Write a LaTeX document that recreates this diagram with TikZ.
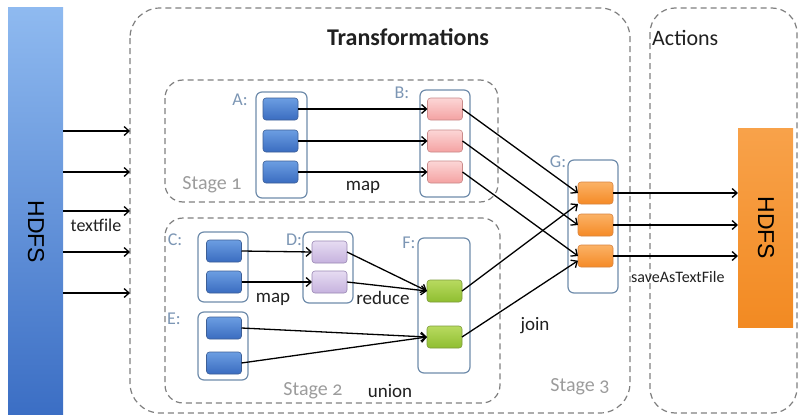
\documentclass[tikz,border=0pt]{standalone}
\usepackage{fontspec}
\setmainfont[Numbers=OldStyle]{Carlito}
\newfontfamily\arialfont{Liberation Sans}
\usetikzlibrary{arrows.meta}
\definecolor{holdline}{HTML}{6F8CAB}
\definecolor{dashgray}{HTML}{7F7F7F}
\definecolor{lettercol}{HTML}{7C96B4}
\definecolor{stagecol}{HTML}{9C9C9C}
\definecolor{txtcol}{HTML}{202020}
\definecolor{blueline}{HTML}{3D5F96}\definecolor{bluetop}{HTML}{6C9EE2}\definecolor{bluebot}{HTML}{3A6CC0}
\definecolor{pinkline}{HTML}{C98A8A}\definecolor{pinktop}{HTML}{FCD6D6}\definecolor{pinkbot}{HTML}{F4A2A2}
\definecolor{lilacline}{HTML}{9A88B4}\definecolor{lilactop}{HTML}{E6DCF2}\definecolor{lilacbot}{HTML}{C6B2DE}
\definecolor{greenline}{HTML}{7E9C3C}\definecolor{greentop}{HTML}{B8DA60}\definecolor{greenbot}{HTML}{8FBE30}
\definecolor{orangeline}{HTML}{D88440}\definecolor{orangetop}{HTML}{FBB266}\definecolor{orangebot}{HTML}{F58A26}
\definecolor{inbartop}{HTML}{8FBAF0}\definecolor{inbarbot}{HTML}{3B6EC4}
\definecolor{outbartop}{HTML}{F8A24A}\definecolor{outbarbot}{HTML}{F28A22}
\tikzset{
  dashbox/.style={draw=dashgray, line width=1.2pt, dash pattern=on 6pt off 4pt},
  holder/.style={draw=holdline, line width=1.2pt, rounded corners=6pt, fill=white, outer sep=0pt},
  blk/.style={rounded corners=3pt, minimum width=35, minimum height=22, line width=.6pt, outer sep=0pt},
  blueblk/.style={blk, draw=blueline, top color=bluetop, bottom color=bluebot},
  pinkblk/.style={blk, draw=pinkline, top color=pinktop, bottom color=pinkbot},
  lilacblk/.style={blk, draw=lilacline, top color=lilactop, bottom color=lilacbot},
  greenblk/.style={blk, draw=greenline, top color=greentop, bottom color=greenbot},
  orangeblk/.style={blk, draw=orangeline, top color=orangetop, bottom color=orangebot},
  link/.style={-{Straight Barb[length=5pt,width=9pt]}, line width=1.3pt, draw=black},
  letter/.style={text=lettercol, font=\fontsize{18}{20}\selectfont},
  stagetxt/.style={text=stagecol, font=\fontsize{20}{22}\selectfont},
  optxt/.style={text=txtcol, font=\fontsize{19}{21}\selectfont},
}
\begin{document}
\begin{tikzpicture}[x=1pt, y=-1pt]
	\useasboundingbox (0,0) rectangle (798,415);
	% dashed frames
	\draw[dashbox, rounded corners=30] (130,8) rectangle (630,413); % transformations
	\draw[dashbox, rounded corners=25] (650,8) rectangle (797,413); % actions
	\draw[dashbox, rounded corners=18] (165,80) rectangle (498,202); % stage 1
	\draw[dashbox, rounded corners=18] (165,218) rectangle (500,403); % stage 2
	\node[font=\bfseries\fontsize{24}{26}\selectfont, text=txtcol] (ttrans) at (408,37) {Transformations};
	\node[anchor=west, font=\fontsize{22}{24}\selectfont, text=txtcol, inner sep=0pt] (tact) at (652,38) {Actions};

	% HDFS bars
	\node[minimum width=55, minimum height=408, outer sep=0pt, top color=inbartop, bottom color=inbarbot] (hdfsin) at (35.5,211) {};
	\node[rotate=-90, font=\arialfont\fontsize{23}{23}\selectfont] (tin) at (36,232) {HDFS};
	\node[minimum width=55, minimum height=199, outer sep=0pt, top color=outbartop, bottom color=outbarbot] (hdfsout) at (765.5,227.5) {};
	\node[rotate=-90, font=\arialfont\fontsize{23}{23}\selectfont] (tout) at (766,228) {HDFS};

	% containers
	\node[holder, minimum width=51, minimum height=106] (A) at (281.5,145) {};
	\node[holder, minimum width=50, minimum height=107] (B) at (445,143.5) {};
	\node[holder, minimum width=50, minimum height=70] (C) at (223,267) {};
	\node[holder, minimum width=50, minimum height=71] (D) at (328,267.5) {};
	\node[holder, minimum width=50, minimum height=68] (E) at (223,346) {};
	\node[holder, minimum width=52, minimum height=135] (F) at (444,305.5) {};
	\node[holder, minimum width=50, minimum height=133] (G) at (593,226.5) {};

	% blocks
	\foreach \n/\y in {1/109,2/141,3/172} {
		\node[blueblk] (a\n) at (280.5,\y) {};
		\node[pinkblk] (b\n) at (445,\y) {};
	}
	\node[blueblk] (c1) at (224,251) {};
	\node[blueblk] (c2) at (224,282) {};
	\node[lilacblk] (d1) at (329.5,252) {};
	\node[lilacblk] (d2) at (329.5,282) {};
	\node[blueblk] (e1) at (224,328) {};
	\node[blueblk] (e2) at (224,363) {};
	\node[greenblk] (f1) at (444.5,291) {};
	\node[greenblk] (f2) at (444.5,337) {};
	\node[orangeblk] (g1) at (595.5,193) {};
	\node[orangeblk] (g2) at (595.5,225) {};
	\node[orangeblk] (g3) at (595.5,256) {};

	% input arrows
	\foreach \n/\y in {1/131,2/172,3/211,4/252,5/293} {
		\coordinate (in\n) at (130,\y);
		\draw[link] (hdfsin.east |- in\n) -- (in\n);
	}
	\node[optxt, font=\fontsize{18}{20}\selectfont] (ttext) at (96,225) {textfile};

	% stage 1 / 2 / 3
	\foreach \n in {1,2,3} {
		\draw[link] (a\n.east) -- (b\n.west);
		\draw[link] (b\n.east) -- (g\n.west);
		\draw[link] (g\n.east) -- (g\n.east -| hdfsout.west);
	}
	\draw[link] (c1.east) -- (d1.west);
	\draw[link] (c2.east) -- (d2.west);
	\draw[link] (d1.east) -- (f1.west);
	\draw[link] (d2.east) -- (f1.west);
	\draw[link] (e1.east) -- (f2.west);
	\draw[link] (e2.east) -- (f2.west);
	\draw[link] (f1.east) -- (g1.south west);
	\draw[link] (f2.east) -- (g3.195);

	% labels
	\node[letter] (la) at (240,100) {A:};
	\node[letter] (lb) at (402,93) {B:};
	\node[letter] (lc) at (175,240) {C:};
	\node[letter] (ld) at (294,240) {D:};
	\node[letter] (le) at (174,319) {E:};
	\node[letter] (lf) at (409,243) {F:};
	\node[letter] (lg) at (558,162) {G:};
	\node[stagetxt] (s1) at (212,185) {Stage 1};
	\node[stagetxt] (s2) at (313,391) {Stage 2};
	\node[stagetxt] (s3) at (580,387) {Stage 3};
	\node[optxt] (m1) at (363,187) {map};
	\node[optxt] (m2) at (273,299) {map};
	\node[optxt] (red) at (383,298) {reduce};
	\node[optxt] (uni) at (390,391) {union};
	\node[optxt] (jn) at (535,326) {join};
	\node[optxt, anchor=west, font=\fontsize{16}{18}\selectfont, inner sep=0pt] (save) at (631,277) {saveAsTextFile};
\end{tikzpicture}
\end{document}
